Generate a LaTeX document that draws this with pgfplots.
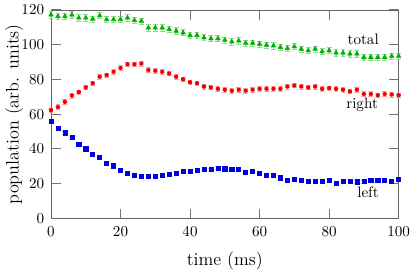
\documentclass[border=0pt]{standalone}
\usepackage{pgfplots}
\pgfplotsset{compat=1.18}
\definecolor{TotGreen}{HTML}{00B000}
\definecolor{RightRed}{HTML}{F00000}
\definecolor{LeftBlue}{HTML}{0000E0}

\pgfplotstableread{
t total
0 117.2
2 116.3
4 116.3
6 117.2
8 115.4
10 115.4
12 114.8
14 116.7
16 114.5
18 114.5
20 114.5
22 115.4
24 114.0
26 113.6
28 109.7
30 109.7
32 109.7
34 108.8
36 107.9
38 106.9
40 105.4
42 105.4
44 104.1
46 103.5
48 103.5
50 102.6
52 101.7
54 102.2
56 100.9
58 100.9
60 100.4
62 99.8
64 99.4
66 98.5
68 97.9
70 98.9
72 97.5
74 96.6
76 97.5
78 96.0
80 96.6
82 95.3
84 95.3
86 94.7
88 94.7
90 92.8
92 92.8
94 92.8
96 92.8
98 93.4
100 93.4
}\totaltab

\pgfplotstableread{
t right
0 62.3
2 64.1
4 67.1
6 70.7
8 72.7
10 75.4
12 77.8
14 81.6
16 82.5
18 84.4
20 86.6
22 88.7
24 88.7
26 89.1
28 85.4
30 85.0
32 84.4
34 83.4
36 81.6
38 80.1
40 78.4
42 77.8
44 75.9
46 75.4
48 74.6
50 74.1
52 73.5
54 74.1
56 73.5
58 74.1
60 74.6
62 74.6
64 74.6
66 74.6
68 75.9
70 76.5
72 75.9
74 75.4
76 75.9
78 74.6
80 75.0
82 74.6
84 74.1
86 73.1
88 74.1
90 71.6
92 71.6
94 70.9
96 71.6
98 71.3
100 70.9
}\righttab

\pgfplotstableread{
t left
0 55.8
2 52.1
4 49.3
6 46.5
8 42.5
10 40.1
12 37.1
14 35.0
16 31.8
18 30.3
20 27.5
22 26.2
24 25.1
26 24.3
28 24.5
30 24.5
32 24.8
34 25.6
36 26.2
38 26.9
40 27.1
42 27.7
44 28.1
46 28.1
48 29.0
50 28.6
52 28.1
54 28.1
56 26.5
58 27.1
60 25.8
62 24.7
64 24.7
66 23.4
68 22.0
70 22.5
72 21.9
74 21.3
76 21.5
78 21.5
80 21.9
82 20.2
84 21.3
86 21.3
88 21.1
90 21.3
92 21.7
94 21.9
96 21.9
98 21.5
100 22.5
}\lefttab

\begin{document}
\begin{tikzpicture}
\begin{axis}[
  scale only axis,
  width=230pt,
  height=138pt,
  xmin=0, xmax=100,
  ymin=0, ymax=120,
  xtick={0,20,...,100},
  ytick={0,20,...,120},
  xlabel={time (ms)},
  ylabel={population (arb. units)},
  label style={font=\large},
  xticklabel style={yshift=-2pt},
  yticklabel style={xshift=-1pt},
  xlabel style={yshift=-3pt},
  ylabel style={yshift=-8pt},
  axis line style={black!60},
  tick style={black!55, line width=0.6pt},
  major tick length=6.5pt,
  tick align=inside,
  clip=false,
]
\addplot[only marks, mark=triangle*, mark size=1.7pt, color=TotGreen,
  error bars/.cd, y dir=both, y fixed=1.8,
  error bar style={TotGreen!45, line width=0.9pt},
  error mark options={rotate=90, mark size=1.6pt, TotGreen!45}]
  table[x=t, y=total] {\totaltab};
\addplot[only marks, mark=asterisk, mark size=1.4pt, line width=1pt, color=RightRed,
  error bars/.cd, y dir=both, y fixed=1.3,
  error bar style={RightRed!35, line width=1pt},
  error mark options={rotate=90, mark size=1.6pt, RightRed!35}]
  table[x=t, y=right] {\righttab};
\addplot[only marks, mark=square*, mark size=1.35pt, color=LeftBlue,
  error bars/.cd, y dir=both, y fixed=0.8,
  error bar style={LeftBlue!30, line width=0.8pt},
  error mark options={rotate=90, mark size=1.6pt, LeftBlue!30}]
  table[x=t, y=left] {\lefttab};
\node at (axis cs:89.8,103) {total};
\node at (axis cs:89.5,65.2) {right};
\node at (axis cs:91.2,14.8) {left};
\end{axis}
\end{tikzpicture}
\end{document}
